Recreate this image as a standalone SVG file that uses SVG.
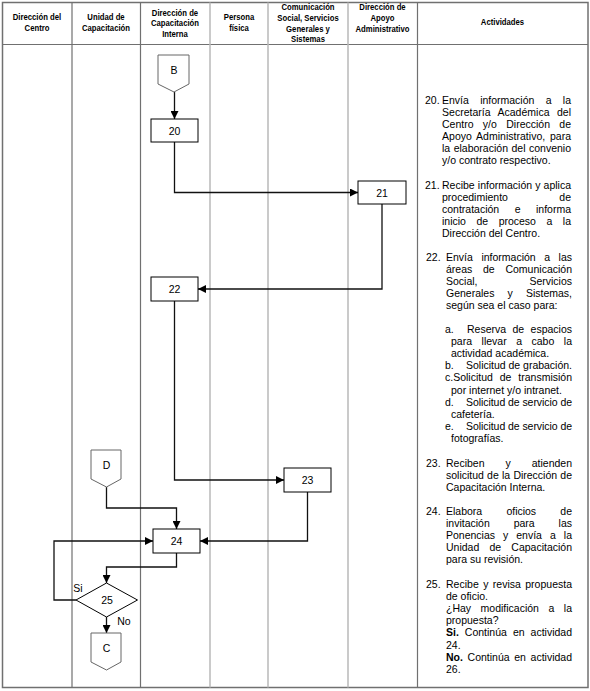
<svg xmlns="http://www.w3.org/2000/svg" width="590" height="691" viewBox="0 0 590 691">
<style>
.frame{fill:none;stroke:#707070;stroke-width:1.5}
.dk{stroke:#707070;stroke-width:1.2}
.lt{stroke:#b8b8b8;stroke-width:1.5}
.hd{font-family:"Liberation Sans",Arial,sans-serif;font-size:9.2px;font-weight:bold;fill:#000;text-anchor:middle}
.act{font-family:"Liberation Sans",Arial,sans-serif;font-size:10.5px;fill:#000}
.box{fill:#fff;stroke:#000;stroke-width:1}
.conn{fill:#fff;stroke:#666;stroke-width:1}
.lbl{font-family:"Liberation Sans",Arial,sans-serif;font-size:10.5px;fill:#000;text-anchor:middle}
.edge{fill:none;stroke:#111;stroke-width:1.3}
</style>
<defs>
<marker id="ah" markerUnits="userSpaceOnUse" markerWidth="8" markerHeight="8" refX="8" refY="4" orient="auto">
<path d="M0,0 L8,4 L0,8 z" fill="#000"/>
</marker>
</defs>
<rect width="590" height="691" fill="#fff"/>
<g id="table">
<rect class="frame" x="2.5" y="2.5" width="585.5" height="685"/>
<line class="dk" x1="2.5" y1="44.5" x2="588" y2="44.5"/>
<line class="dk" x1="72" y1="2.5" x2="72" y2="687.5"/>
<line class="dk" x1="140.5" y1="2.5" x2="140.5" y2="687.5"/>
<line class="lt" x1="210" y1="2.5" x2="210" y2="687.5"/>
<line class="lt" x1="268" y1="2.5" x2="268" y2="687.5"/>
<line class="lt" x1="348" y1="2.5" x2="348" y2="687.5"/>
<line class="dk" x1="417.5" y1="2.5" x2="417.5" y2="687.5"/>
</g>
<g id="header">
<g transform="translate(37,0) scale(0.84,1)"><text class="hd" x="0" y="20.5">Dirección del</text><text class="hd" x="0" y="31.5">Centro</text></g>
<g transform="translate(106,0) scale(0.84,1)"><text class="hd" x="0" y="20.5">Unidad de</text><text class="hd" x="0" y="31.5">Capacitación</text></g>
<g transform="translate(175,0) scale(0.84,1)"><text class="hd" x="0" y="16">Dirección de</text><text class="hd" x="0" y="26.5">Capacitación</text><text class="hd" x="0" y="37">Interna</text></g>
<g transform="translate(239,0) scale(0.84,1)"><text class="hd" x="0" y="20.5">Persona</text><text class="hd" x="0" y="31.5">física</text></g>
<g transform="translate(308,0) scale(0.84,1)"><text class="hd" x="0" y="10">Comunicación</text><text class="hd" x="0" y="20.8">Social, Servicios</text><text class="hd" x="0" y="31.6">Generales y</text><text class="hd" x="0" y="42.4">Sistemas</text></g>
<g transform="translate(382.5,0) scale(0.84,1)"><text class="hd" x="0" y="10">Dirección de</text><text class="hd" x="0" y="20.8">Apoyo</text><text class="hd" x="0" y="31.6">Administrativo</text></g>
<g transform="translate(502.5,0) scale(0.84,1)"><text class="hd" x="0" y="25.5">Actividades</text></g>
</g>
<g id="activities">
<text class="act" x="425" y="103.5">20.</text>
<text class="act" x="442" y="103.5" word-spacing="8.4" textLength="129" lengthAdjust="spacing">Envía información a la</text>
<text class="act" x="442" y="115.5" word-spacing="4.4" textLength="129" lengthAdjust="spacing">Secretaría Académica del</text>
<text class="act" x="442" y="127.5" word-spacing="6.44" textLength="129" lengthAdjust="spacing">Centro y/o Dirección de</text>
<text class="act" x="442" y="139.5" word-spacing="1.78" textLength="129" lengthAdjust="spacing">Apoyo Administrativo, para</text>
<text class="act" x="442" y="151.5" word-spacing="0.58" textLength="129" lengthAdjust="spacing">la elaboración del convenio</text>
<text class="act" x="442" y="163.5">y/o contrato respectivo.</text>

<text class="act" x="425" y="188.5">21.</text>
<text class="act" x="442" y="188.5" word-spacing="0.2" textLength="129" lengthAdjust="spacing">Recibe información y aplica</text>
<text class="act" x="442" y="200.5" word-spacing="48.5" textLength="129" lengthAdjust="spacing">procedimiento de</text>
<text class="act" x="442" y="212.5" word-spacing="12.6" textLength="129" lengthAdjust="spacing">contratación e informa</text>
<text class="act" x="442" y="224.5" word-spacing="7.6" textLength="129" lengthAdjust="spacing">inicio de proceso a la</text>
<text class="act" x="442" y="236.5">Dirección del Centro.</text>

<text class="act" x="426" y="260.5">22.</text>
<text class="act" x="446" y="260.5" word-spacing="5.6" textLength="126" lengthAdjust="spacing">Envía información a las</text>
<text class="act" x="446" y="272.5" word-spacing="7.8" textLength="126" lengthAdjust="spacing">áreas de Comunicación</text>
<text class="act" x="446" y="284.5" word-spacing="49" textLength="126" lengthAdjust="spacing">Social, Servicios</text>
<text class="act" x="446" y="296.5" word-spacing="10.2" textLength="126" lengthAdjust="spacing">Generales y Sistemas,</text>
<text class="act" x="446" y="308.5">según sea el caso para:</text>

<text class="act" x="445" y="332.5">a.</text>
<text class="act" x="467" y="332.5" word-spacing="3.5" textLength="105" lengthAdjust="spacing">Reserva de espacios</text>
<text class="act" x="451" y="344.7" word-spacing="6.6" textLength="121" lengthAdjust="spacing">para llevar a cabo la</text>
<text class="act" x="451" y="356.9">actividad académica.</text>
<text class="act" x="445" y="369.1">b.</text>
<text class="act" x="466" y="369.1" textLength="106" lengthAdjust="spacing">Solicitud de grabación.</text>
<text class="act" x="445" y="381.3" word-spacing="4.0" textLength="127" lengthAdjust="spacing">c.Solicitud de transmisión</text>
<text class="act" x="451" y="393.5">por internet y/o intranet.</text>
<text class="act" x="445" y="405.7">d.</text>
<text class="act" x="466" y="405.7" textLength="106" lengthAdjust="spacing">Solicitud de servicio de</text>
<text class="act" x="451" y="417.9">cafetería.</text>
<text class="act" x="445" y="430.1">e.</text>
<text class="act" x="466" y="430.1" textLength="106" lengthAdjust="spacing">Solicitud de servicio de</text>
<text class="act" x="451" y="442.3">fotografías.</text>

<text class="act" x="426" y="466.5">23.</text>
<text class="act" x="446" y="466.5" word-spacing="18.1" textLength="126" lengthAdjust="spacing">Reciben y atienden</text>
<text class="act" x="446" y="478.5" word-spacing="0.3" textLength="126" lengthAdjust="spacing">solicitud de la Dirección de</text>
<text class="act" x="446" y="490.5">Capacitación Interna.</text>

<text class="act" x="426" y="514.5">24.</text>
<text class="act" x="446" y="514.5" word-spacing="21.3" textLength="126" lengthAdjust="spacing">Elabora oficios de</text>
<text class="act" x="446" y="526.7" word-spacing="21" textLength="126" lengthAdjust="spacing">invitación para las</text>
<text class="act" x="446" y="538.9" word-spacing="5.1" textLength="126" lengthAdjust="spacing">Ponencias y envía a la</text>
<text class="act" x="446" y="551.1" word-spacing="7.3" textLength="126" lengthAdjust="spacing">Unidad de Capacitación</text>
<text class="act" x="446" y="563.3">para su revisión.</text>

<text class="act" x="426" y="587.5">25.</text>
<text class="act" x="446" y="587.5" word-spacing="1.5" textLength="126" lengthAdjust="spacing">Recibe y revisa propuesta</text>
<text class="act" x="446" y="599.7">de oficio.</text>
<text class="act" x="446" y="611.9" word-spacing="6.6" textLength="126" lengthAdjust="spacing">¿Hay modificación a la</text>
<text class="act" x="446" y="624.1">propuesta?</text>
<text class="act" x="446" y="636.3" word-spacing="3.1" textLength="126" lengthAdjust="spacing"><tspan font-weight="bold">Si.</tspan> Continúa en actividad</text>
<text class="act" x="446" y="648.5">24.</text>
<text class="act" x="446" y="660.7" word-spacing="1.75" textLength="126" lengthAdjust="spacing"><tspan font-weight="bold">No.</tspan> Continúa en actividad</text>
<text class="act" x="446" y="672.9">26.</text>
</g>
<g id="connectors">
<path class="edge" d="M174.5,92 V119" marker-end="url(#ah)"/>
<path class="edge" d="M174.5,142 V192.5 H358" marker-end="url(#ah)"/>
<path class="edge" d="M382,204 V289 H198" marker-end="url(#ah)"/>
<path class="edge" d="M174.5,301 V480 H284" marker-end="url(#ah)"/>
<path class="edge" d="M106.5,487 V508 H176.5 V529" marker-end="url(#ah)"/>
<path class="edge" d="M307.5,492 V541 H200" marker-end="url(#ah)"/>
<path class="edge" d="M176.5,553 V567 H106.5 V583" marker-end="url(#ah)"/>
<path class="edge" d="M76,600 H54 V541 H153" marker-end="url(#ah)"/>
<path class="edge" d="M106.5,617 V633" marker-end="url(#ah)"/>
<text class="lbl" x="78" y="592">Si</text>
<text class="lbl" x="124" y="625">No</text>
</g>
<g id="node-B">
<polygon class="conn" points="158,55 189,55 189,84 174,92 158,84"/>
<text class="lbl" x="174" y="74">B</text>
</g>
<g id="node-20">
<rect class="box" x="151" y="119" width="47" height="23"/>
<text class="lbl" x="174.5" y="134.5">20</text>
</g>
<g id="node-21">
<rect class="box" x="358" y="181" width="48" height="23"/>
<text class="lbl" x="382" y="196.5">21</text>
</g>
<g id="node-22">
<rect class="box" x="151" y="277" width="47" height="24"/>
<text class="lbl" x="174.5" y="293">22</text>
</g>
<g id="node-23">
<rect class="box" x="284" y="468" width="47" height="24"/>
<text class="lbl" x="307.5" y="484">23</text>
</g>
<g id="node-D">
<polygon class="conn" points="91,450 121,450 121,479 106.5,487 91,479"/>
<text class="lbl" x="106.5" y="469">D</text>
</g>
<g id="node-24">
<rect class="box" x="153" y="529" width="47" height="24"/>
<text class="lbl" x="176.5" y="545">24</text>
</g>
<g id="node-25">
<polygon class="box" points="106.5,583 137.5,600 106.5,617 76,600"/>
<text class="lbl" x="107" y="604">25</text>
</g>
<g id="node-C">
<polygon class="conn" points="91,633 121,633 121,662 106.5,670 91,662"/>
<text class="lbl" x="106.5" y="652">C</text>
</g>
</svg>
